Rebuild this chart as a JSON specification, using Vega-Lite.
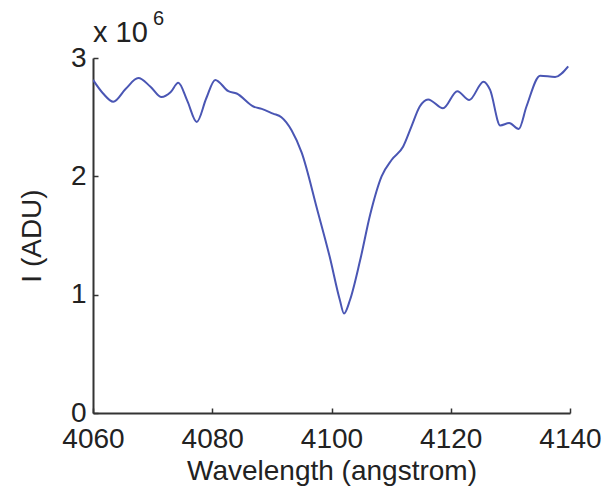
{
  "$schema": "https://vega.github.io/schema/vega-lite/v6.json",
  "autosize": "none",
  "width": 477,
  "height": 355,
  "padding": {"left": 93, "top": 58, "right": 37, "bottom": 87},
  "background": "white",
  "config": {
    "view": {"stroke": null},
    "font": "Liberation Sans",
    "axis": {"grid": false, "domainColor": "#333333", "domainWidth": 2, "tickColor": "#333333", "tickWidth": 1.5, "labelColor": "#222222", "titleColor": "#222222", "labelFont": "Liberation Sans", "titleFont": "Liberation Sans", "titleFontWeight": "normal", "labelFontSize": 28, "titleFontSize": 28}
  },
  "datasets": {
    "spectrum": [
      {"wavelength": 4060.0, "intensity": 2815000},
      {"wavelength": 4061.7, "intensity": 2700000},
      {"wavelength": 4063.4, "intensity": 2630000},
      {"wavelength": 4065.5, "intensity": 2740000},
      {"wavelength": 4067.6, "intensity": 2830000},
      {"wavelength": 4069.6, "intensity": 2760000},
      {"wavelength": 4071.5, "intensity": 2670000},
      {"wavelength": 4073.0, "intensity": 2710000},
      {"wavelength": 4074.3, "intensity": 2790000},
      {"wavelength": 4075.8, "intensity": 2640000},
      {"wavelength": 4077.4, "intensity": 2460000},
      {"wavelength": 4079.0, "intensity": 2660000},
      {"wavelength": 4080.5, "intensity": 2815000},
      {"wavelength": 4082.7, "intensity": 2720000},
      {"wavelength": 4084.1, "intensity": 2700000},
      {"wavelength": 4086.9, "intensity": 2590000},
      {"wavelength": 4088.3, "intensity": 2570000},
      {"wavelength": 4090.2, "intensity": 2530000},
      {"wavelength": 4091.6, "intensity": 2500000},
      {"wavelength": 4093.3, "intensity": 2390000},
      {"wavelength": 4095.0, "intensity": 2200000},
      {"wavelength": 4097.6, "intensity": 1720000},
      {"wavelength": 4099.7, "intensity": 1320000},
      {"wavelength": 4101.4, "intensity": 955000},
      {"wavelength": 4102.1, "intensity": 840000},
      {"wavelength": 4103.1, "intensity": 955000},
      {"wavelength": 4104.8, "intensity": 1290000},
      {"wavelength": 4106.5, "intensity": 1680000},
      {"wavelength": 4108.4, "intensity": 2000000},
      {"wavelength": 4110.1, "intensity": 2140000},
      {"wavelength": 4112.0, "intensity": 2250000},
      {"wavelength": 4113.4, "intensity": 2420000},
      {"wavelength": 4114.8, "intensity": 2590000},
      {"wavelength": 4116.2, "intensity": 2650000},
      {"wavelength": 4118.7, "intensity": 2575000},
      {"wavelength": 4121.1, "intensity": 2720000},
      {"wavelength": 4123.1, "intensity": 2645000},
      {"wavelength": 4125.5, "intensity": 2800000},
      {"wavelength": 4126.6, "intensity": 2730000},
      {"wavelength": 4128.3, "intensity": 2430000},
      {"wavelength": 4129.8, "intensity": 2450000},
      {"wavelength": 4131.4, "intensity": 2400000},
      {"wavelength": 4132.7, "intensity": 2590000},
      {"wavelength": 4135.0, "intensity": 2850000},
      {"wavelength": 4137.5, "intensity": 2840000},
      {"wavelength": 4139.7, "intensity": 2930000}
    ]
  },
  "layer": [
    {
      "data": {"name": "spectrum"},
      "mark": {"type": "line", "interpolate": "monotone", "color": "#4a56b4", "strokeWidth": 2, "clip": true},
      "encoding": {
        "x": {"field": "wavelength", "type": "quantitative", "scale": {"domain": [4060, 4140], "nice": false, "zero": false},
          "axis": {"title": "Wavelength (angstrom)", "values": [4060, 4080, 4100, 4120, 4140], "format": "d", "tickSize": -5, "labelPadding": 17, "titlePadding": 4, "labelFlush": false, "labelOverlap": false}},
        "y": {"field": "intensity", "type": "quantitative", "scale": {"domain": [0, 3000000], "nice": false},
          "axis": {"title": "I (ADU)", "values": [0, 1000000, 2000000, 3000000], "labelExpr": "format(datum.value / 1000000, 'd')", "tickSize": -5, "labelPadding": 12, "titlePadding": 24, "labelFlush": false, "labelOverlap": false}}
      }
    },
    {
      "data": {"values": [{"t": "x 10"}]},
      "mark": {"type": "text", "align": "left", "baseline": "alphabetic", "fontSize": 29, "color": "#222222", "dx": 0, "dy": -16},
      "encoding": {"x": {"datum": 4060, "type": "quantitative"}, "y": {"datum": 3000000, "type": "quantitative"}, "text": {"field": "t"}}
    },
    {
      "data": {"values": [{"t": "6"}]},
      "mark": {"type": "text", "align": "left", "baseline": "alphabetic", "fontSize": 20, "color": "#222222", "dx": 60, "dy": -33},
      "encoding": {"x": {"datum": 4060, "type": "quantitative"}, "y": {"datum": 3000000, "type": "quantitative"}, "text": {"field": "t"}}
    }
  ]
}
